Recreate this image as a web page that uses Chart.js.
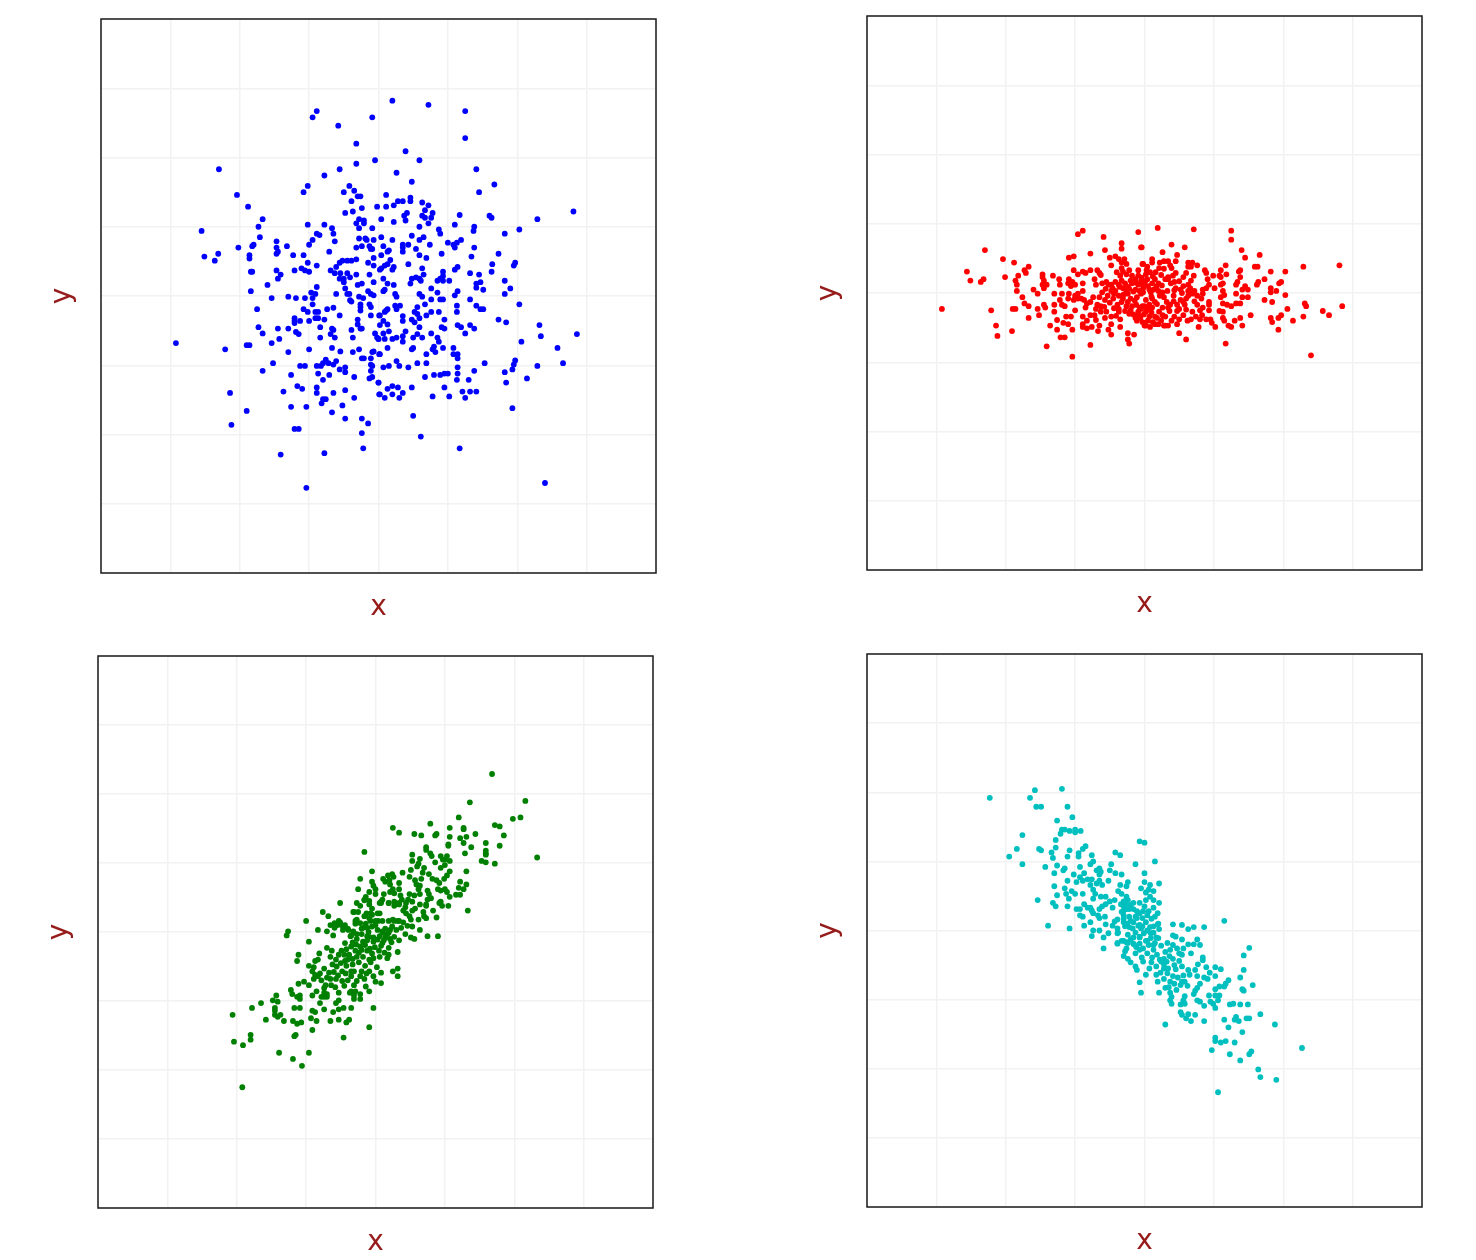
<!DOCTYPE html>
<html>
<head>
<meta charset="utf-8">
<title>scatter</title>
<script src="https://cdn.jsdelivr.net/npm/chart.js@4/dist/chart.umd.min.js"></script>
<style>
html, body { margin: 0; padding: 0; background: #fff; overflow: hidden; }
canvas { position: absolute; }
</style>
</head>
<body>
<canvas id="c1"></canvas>
<canvas id="c2"></canvas>
<canvas id="c3"></canvas>
<canvas id="c4"></canvas>
<script>
// values, [x, y]
var bluePoints = [
[-0.89,2.67],[-0.95,2.58],[-0.09,2.58],[-0.58,2.46],[-0.32,2.20],[-0.32,1.91],[-0.05,1.96],[-2.30,1.83],[-0.56,1.83],[-0.78,1.74],
[-1.02,1.59],[-1.08,1.50],[-0.42,1.59],[-0.35,1.52],[-0.50,1.50],[-2.04,1.46],[-0.30,1.44],[-0.26,1.44],[-0.39,1.37],[-1.88,1.29],
[-0.24,1.27],[-0.02,1.29],[-0.37,1.22],[-0.48,1.20],[-1.67,1.11],[-0.28,1.11],[-0.21,1.09],[-0.32,1.05],[-0.21,1.05],[-1.73,1.00],
[-1.02,1.03],[-0.78,1.03],[-0.67,0.98],[-0.28,0.98],[-0.09,0.98],[-2.55,0.94],[-0.89,0.90],[-0.85,0.88],[-0.65,0.90],[-1.71,0.85],
[-0.28,0.83],[-0.19,0.83],[-0.17,0.81],[-0.07,0.81],[-0.95,0.81],[-1.47,0.79],[-0.63,0.79],[-1.00,0.74],[-1.32,0.72],[-1.47,0.70],
[-1.80,0.74],[-1.82,0.72],[-2.02,0.70],[-0.32,0.70],[-0.24,0.72],[-0.13,0.72],[-0.11,0.68],[-0.09,0.68],[-1.45,0.64],[-1.47,0.61],
[-0.71,0.64],[-2.31,0.61],[-1.86,0.59],[-1.86,0.54],[-1.23,0.59],[-1.08,0.59],[-2.51,0.57],[-2.36,0.51],[-0.07,0.55],[-1.02,0.48],
[-0.89,0.44],[-0.15,0.48],[-0.32,0.53],[-0.39,0.51],[-0.45,0.51],[-0.52,0.51],[-0.56,0.48],[-0.61,0.42],[-0.07,0.44],[-1.11,0.40],
[-1.06,0.37],[-1.00,0.35],[-1.21,0.37],[-1.47,0.37],[-1.84,0.35],[-1.82,0.35],[-1.41,0.31],[-0.69,0.37],[-0.63,0.33],[-0.55,0.33],
[-0.45,0.33],[-0.32,0.31],[-0.13,0.31],[-1.45,0.25],[-0.56,0.25],[-0.50,0.25],[-0.41,0.27],[-0.50,0.20],[-0.07,0.20],[-0.30,0.16],
[-0.24,0.18],[-1.60,0.16],[-0.89,0.13],[-0.48,0.11],[-1.84,0.07],[-0.97,0.05],[-0.91,0.03],[-0.61,0.03],[-0.45,0.03],[-0.42,0.03],
[-0.15,0.07],[-0.11,0.03],[-0.07,0.01],[-1.54,-0.03],[-1.30,-0.01],[-1.19,-0.03],[-1.06,-0.03],[-0.95,-0.03],[-0.41,-0.06],[-0.28,-0.01],
[-0.22,-0.03],[-0.95,-0.12],[-1.08,-0.19],[-1.75,-0.19],[-1.02,-0.23],[-0.91,-0.23],[-0.87,-0.23],[-0.74,-0.19],[-0.65,-0.17],[-0.56,-0.28],
[-0.39,-0.08],[-0.26,-0.12],[-0.13,-0.12],[-0.11,-0.16],[-0.26,-0.21],[-0.26,-0.16],[-0.11,-0.28],[0.01,-0.28],[-1.21,-0.32],[-1.21,-0.36],
[-1.21,-0.39],[-1.13,-0.36],[-1.00,-0.36],[-0.91,-0.32],[-0.87,-0.32],[-0.78,-0.34],[-0.30,-0.34],[-0.30,-0.41],[-0.26,-0.47],[-0.24,-0.47],
[-1.73,-0.45],[-1.45,-0.47],[-1.30,-0.47],[-0.84,-0.45],[-0.67,-0.47],[-0.65,-0.49],[-0.39,-0.49],[-1.67,-0.54],[-1.19,-0.52],[-1.15,-0.55],
[-0.69,-0.55],[-0.05,-0.54],[-0.84,-0.60],[-0.63,-0.60],[-0.37,-0.60],[-0.02,-0.60],[0.00,-0.62],[-1.43,-0.62],[-1.54,-0.68],[-2.92,-0.68],
[-1.90,-0.71],[-1.86,-0.71],[-2.21,-0.77],[-1.00,-0.77],[-0.67,-0.75],[-0.28,-0.77],[-1.30,-0.81],[-0.55,-0.80],[-0.37,-0.81],[-0.07,-0.80],
[-0.09,-0.81],[0.01,-0.84],[-0.24,-0.90],[-0.21,-0.90],[-0.11,-0.90],[-1.52,-0.97],[-0.76,-0.92],[-0.80,-0.97],[-0.72,-0.97],[-0.61,-0.94],
[-0.65,-0.99],[-1.13,-1.01],[-1.06,-1.01],[-0.89,-1.01],[-0.83,-1.01],[-0.11,-0.99],[-0.09,-1.01],[-1.67,-1.08],[-0.56,-1.06],[-0.48,-1.03],
[-0.48,-1.10],[-0.11,-1.08],[-0.87,-1.12],[-1.26,-1.14],[-0.71,-1.14],[-0.35,-1.17],[-0.09,-1.17],[-0.13,-1.19],[-0.80,-1.21],[0.00,-1.25],
[-1.17,-1.30],[-1.10,-1.34],[-0.89,-1.32],[-1.37,-1.38],[-2.14,-1.40],[-0.89,-1.40],[-0.65,-1.40],[-0.48,-1.36],[0.01,-1.42],[-0.35,-1.47],
[-0.80,-1.49],[-0.76,-1.49],[-0.82,-1.55],[-0.52,-1.58],[-1.26,-1.60],[-1.04,-1.60],[-1.90,-1.66],[-0.67,-1.68],[-0.48,-1.77],[-0.24,-1.77],
[-0.15,-1.84],[-2.12,-1.86],[-1.21,-1.92],[-1.15,-1.92],[-0.24,-1.98],[-0.22,-2.20],[-0.78,-2.27],[-1.41,-2.29],[-1.04,-2.77],
[0.20,2.82],[0.72,2.76],[1.25,2.67],[1.25,2.28],[0.39,2.09],[0.59,1.96],[1.41,1.83],[0.26,1.78],[0.48,1.65],[1.67,1.61],
[1.45,1.50],[0.11,1.46],[0.28,1.37],[0.35,1.37],[0.46,1.42],[0.46,1.37],[0.63,1.35],[0.72,1.31],[0.22,1.31],[0.11,1.29],
[0.67,1.24],[0.78,1.20],[1.17,1.17],[0.41,1.20],[0.37,1.16],[0.39,1.09],[0.63,1.16],[0.67,1.13],[0.76,1.13],[1.60,1.16],
[1.63,1.13],[2.29,1.11],[2.81,1.22],[0.04,1.11],[0.22,1.07],[0.72,1.05],[1.10,1.03],[0.59,1.00],[1.38,1.00],[1.37,0.94],
[0.87,0.96],[0.89,0.90],[2.03,0.96],[1.82,0.90],[0.04,0.85],[0.48,0.87],[0.65,0.85],[0.59,0.81],[0.20,0.81],[1.19,0.81],
[1.00,0.77],[0.74,0.74],[1.13,0.77],[1.08,0.74],[1.10,0.70],[0.07,0.72],[0.35,0.74],[0.43,0.74],[0.35,0.70],[0.35,0.64],
[0.54,0.68],[1.38,0.70],[0.15,0.66],[0.13,0.64],[0.91,0.61],[1.73,0.61],[0.04,0.59],[0.59,0.59],[0.69,0.55],[1.34,0.57],
[0.17,0.52],[0.43,0.46],[0.13,0.46],[0.09,0.44],[0.04,0.40],[0.02,0.38],[0.22,0.42],[0.20,0.38],[1.64,0.46],[1.97,0.48],
[1.95,0.44],[1.14,0.42],[1.10,0.38],[0.63,0.40],[1.63,0.35],[1.32,0.33],[1.45,0.31],[0.65,0.31],[0.93,0.35],[0.93,0.29],
[0.93,0.22],[0.89,0.25],[0.85,0.22],[1.02,0.22],[0.48,0.25],[0.54,0.27],[0.59,0.25],[0.61,0.22],[0.46,0.18],[0.07,0.25],
[0.13,0.18],[0.22,0.16],[1.82,0.22],[1.47,0.20],[1.41,0.18],[1.41,0.12],[1.51,0.09],[1.90,0.11],[0.76,0.11],[0.09,0.09],
[0.07,0.07],[1.14,0.07],[1.10,0.01],[0.85,0.05],[1.82,0.03],[0.24,0.03],[0.26,-0.01],[0.59,0.03],[0.63,-0.01],[0.76,-0.05],
[0.89,-0.05],[0.93,-0.05],[1.32,-0.05],[2.03,-0.12],[0.67,-0.12],[1.41,-0.14],[1.13,-0.14],[1.13,-0.23],[1.47,-0.19],[1.51,-0.19],
[0.24,-0.14],[0.31,-0.14],[0.26,-0.19],[0.13,-0.19],[0.09,-0.23],[0.02,-0.28],[0.11,-0.21],[0.56,-0.16],[0.52,-0.23],[0.56,-0.26],
[0.76,-0.23],[0.69,-0.28],[0.87,-0.23],[0.35,-0.29],[0.35,-0.36],[0.59,-0.32],[0.48,-0.34],[0.52,-0.38],[0.95,-0.34],[1.73,-0.34],
[1.84,-0.38],[0.07,-0.36],[0.13,-0.41],[0.02,-0.42],[0.59,-0.45],[0.91,-0.45],[0.95,-0.47],[1.14,-0.42],[1.19,-0.45],[1.32,-0.42],
[1.38,-0.47],[2.32,-0.42],[0.39,-0.51],[0.15,-0.51],[0.07,-0.54],[0.76,-0.54],[1.25,-0.54],[2.86,-0.55],[2.34,-0.58],[0.56,-0.55],
[0.50,-0.60],[0.63,-0.60],[0.35,-0.58],[0.26,-0.60],[0.20,-0.62],[0.09,-0.62],[0.00,-0.62],[0.35,-0.66],[0.85,-0.60],[0.87,-0.66],
[0.80,-0.73],[2.06,-0.66],[0.13,-0.75],[0.48,-0.77],[0.50,-0.75],[0.93,-0.75],[1.08,-0.75],[2.58,-0.75],[0.78,-0.77],[0.82,-0.81],
[0.69,-0.84],[0.02,-0.84],[1.08,-0.84],[1.14,-0.84],[1.14,-0.90],[1.97,-0.93],[1.95,-0.99],[1.93,-1.06],[0.26,-0.94],[0.30,-1.01],
[0.56,-0.97],[0.69,-0.97],[1.53,-0.97],[2.66,-0.97],[2.29,-1.01],[0.15,-1.01],[0.07,-1.03],[0.43,-1.03],[1.14,-1.03],[1.14,-1.12],
[1.13,-1.21],[1.38,-1.08],[1.82,-1.10],[0.67,-1.17],[0.80,-1.14],[0.89,-1.14],[0.95,-1.12],[1.00,-1.12],[2.14,-1.19],[1.30,-1.21],
[1.84,-1.25],[0.00,-1.25],[0.20,-1.30],[0.13,-1.34],[0.28,-1.32],[0.48,-1.32],[0.95,-1.32],[1.21,-1.38],[1.32,-1.38],[1.41,-1.38],
[0.02,-1.42],[0.09,-1.47],[0.20,-1.42],[0.35,-1.40],[0.30,-1.47],[0.78,-1.45],[1.02,-1.45],[1.25,-1.47],[1.93,-1.62],[0.50,-1.73],
[0.61,-2.03],[1.17,-2.20],[2.40,-2.70]
];
var redPoints = [
[-0.89,0.90],[-0.96,0.85],[-0.59,0.81],[-0.09,0.88],[-0.33,0.72],[-0.33,0.64],[-0.05,0.66],[-2.30,0.62],[-0.57,0.62],[-0.78,0.57],
[-1.02,0.53],[-1.09,0.51],[-2.04,0.49],[-1.88,0.44],[-0.50,0.51],[-0.48,0.40],[-0.42,0.53],[-0.37,0.49],[-0.33,0.44],[-0.29,0.49],
[-0.26,0.42],[-0.03,0.42],[-1.67,0.38],[-1.73,0.33],[-1.71,0.29],[-1.02,0.33],[-2.56,0.31],[-0.96,0.27],[-0.89,0.31],[-0.85,0.29],
[-0.78,0.33],[-0.68,0.33],[-0.65,0.29],[-0.63,0.26],[-0.33,0.36],[-0.31,0.31],[-0.26,0.27],[-0.22,0.33],[-0.09,0.33],[-0.09,0.25],
[-1.47,0.27],[-1.47,0.23],[-1.45,0.18],[-1.32,0.25],[-1.23,0.20],[-1.82,0.25],[-1.86,0.18],[-1.84,0.12],[-2.01,0.23],[-2.32,0.20],
[-2.36,0.16],[-2.51,0.18],[-1.09,0.20],[-1.10,0.14],[-1.04,0.16],[-1.00,0.12],[-1.06,0.10],[-0.89,0.14],[-0.72,0.20],[-1.22,0.12],
[-1.41,0.12],[-1.45,0.07],[-1.47,0.12],[-0.70,0.12],[-0.61,0.14],[-0.55,0.16],[-0.48,0.12],[-0.42,0.16],[-0.52,0.12],[-0.46,0.07],
[-0.35,0.25],[-0.33,0.18],[-0.37,0.12],[-0.31,0.07],[-0.42,0.03],[-0.48,0.03],[-0.26,0.03],[-0.18,0.25],[-0.13,0.20],[-0.18,0.14],
[-0.09,0.12],[-0.13,0.05],[-0.07,0.03],[-1.84,0.03],[-1.60,0.05],[-1.54,-0.01],[-1.30,-0.01],[-1.19,-0.01],[-0.89,0.03],[-0.96,-0.01],
[-1.09,-0.01],[-0.61,0.01],[-0.65,-0.06],[-0.44,-0.01],[-0.37,-0.04],[-0.24,-0.01],[-0.31,-0.08],[-0.20,-0.08],[-0.11,-0.06],[-0.05,-0.01],
[-1.76,-0.06],[-1.73,-0.15],[-1.67,-0.19],[-1.10,-0.08],[-1.02,-0.10],[-1.22,-0.10],[-1.19,-0.17],[-1.15,-0.19],[-1.00,-0.04],[-0.96,-0.08],
[-0.91,-0.08],[-0.87,-0.10],[-0.83,-0.15],[-0.85,-0.21],[-0.74,-0.06],[-0.78,-0.13],[-0.57,-0.10],[-1.30,-0.17],[-1.30,-0.27],[-1.45,-0.17],
[-1.43,-0.21],[-0.68,-0.17],[-0.63,-0.19],[-0.70,-0.23],[-0.39,-0.17],[-0.37,-0.23],[-0.37,-0.27],[-0.26,-0.19],[-0.28,-0.26],[-0.22,-0.30],
[-0.03,-0.19],[-0.09,-0.27],[-0.05,-0.23],[-2.92,-0.23],[-2.21,-0.25],[-1.90,-0.23],[-1.86,-0.23],[-1.54,-0.23],[-1.00,-0.25],[-0.55,-0.27],
[-0.63,-0.27],[-0.72,-0.32],[-0.78,-0.32],[-0.89,-0.34],[-0.70,-0.39],[-1.52,-0.32],[-1.67,-0.36],[-1.13,-0.34],[-1.06,-0.34],[-1.26,-0.39],
[-0.57,-0.36],[-0.48,-0.34],[-0.48,-0.45],[-0.35,-0.38],[-0.35,-0.49],[-0.09,-0.32],[-0.11,-0.40],[-0.13,-0.36],[-0.83,-0.40],[-0.89,-0.45],
[-0.89,-0.49],[-0.83,-0.51],[-0.76,-0.49],[-1.17,-0.43],[-1.10,-0.45],[-0.65,-0.47],[-0.03,-0.42],[0.00,-0.47],[-2.14,-0.47],[-1.36,-0.47],
[-1.26,-0.53],[-1.04,-0.53],[-0.67,-0.55],[-0.52,-0.53],[-0.48,-0.60],[-1.91,-0.55],[-0.24,-0.58],[-0.15,-0.60],[-2.12,-0.62],[-1.21,-0.64],
[-1.15,-0.64],[-0.24,-0.67],[-0.22,-0.73],[-0.78,-0.75],[-1.41,-0.77],[-1.04,-0.92],
[0.19,0.94],[0.71,0.92],[1.25,0.90],[1.25,0.77],[0.39,0.70],[0.58,0.66],[-0.04,0.66],[0.26,0.59],[0.47,0.55],[1.40,0.62],
[1.45,0.51],[1.66,0.55],[0.11,0.49],[0.11,0.44],[0.22,0.44],[0.28,0.46],[0.34,0.46],[0.45,0.46],[-0.02,0.42],[0.04,0.38],
[0.21,0.36],[0.37,0.40],[0.39,0.36],[0.63,0.44],[0.63,0.38],[0.69,0.44],[0.67,0.38],[0.76,0.40],[1.17,0.40],[1.59,0.38],
[1.63,0.38],[2.29,0.38],[2.81,0.40],[2.03,0.31],[1.82,0.31],[1.38,0.33],[1.36,0.31],[1.10,0.33],[1.08,0.25],[1.10,0.23],
[0.87,0.33],[0.89,0.29],[1.18,0.27],[0.99,0.25],[0.45,0.29],[0.41,0.25],[0.34,0.23],[0.34,0.20],[0.60,0.29],[0.56,0.23],
[0.71,0.25],[0.67,0.18],[0.02,0.27],[0.04,0.20],[0.15,0.20],[0.11,0.14],[0.20,0.14],[1.73,0.20],[1.64,0.16],[1.62,0.12],
[1.97,0.16],[1.94,0.14],[1.38,0.23],[1.34,0.16],[1.32,0.12],[0.91,0.20],[0.43,0.16],[1.13,0.14],[1.10,0.12],[0.93,0.12],
[0.89,0.07],[0.84,0.05],[0.56,0.10],[0.63,0.12],[0.45,0.07],[0.52,0.05],[1.01,0.07],[1.82,0.07],[1.82,0.01],[1.90,0.03],
[1.45,0.10],[1.41,0.05],[1.49,0.05],[1.32,-0.01],[-0.02,0.07],[0.07,0.05],[0.13,0.05],[-0.02,0.01],[0.26,0.01],[0.24,-0.01],
[0.28,-0.06],[0.63,0.03],[0.69,-0.01],[0.63,-0.04],[0.84,-0.01],[0.76,-0.04],[0.82,-0.08],[1.13,0.03],[1.15,-0.03],[1.10,-0.06],
[1.41,-0.06],[1.49,-0.06],[2.03,-0.03],[0.02,-0.10],[0.11,-0.08],[0.15,-0.13],[0.07,-0.17],[0.00,-0.19],[0.37,-0.17],[0.34,-0.21],
[0.26,-0.21],[0.52,-0.10],[0.56,-0.13],[0.47,-0.17],[0.58,-0.17],[1.73,-0.10],[1.84,-0.13],[0.93,-0.13],[0.93,-0.17],[0.76,-0.17],
[0.84,-0.21],[0.80,-0.25],[0.93,-0.25],[1.13,-0.15],[1.19,-0.17],[1.25,-0.19],[1.32,-0.15],[1.38,-0.15],[2.31,-0.15],[2.33,-0.19],
[2.85,-0.19],[-0.07,-0.21],[0.02,-0.27],[0.11,-0.21],[0.50,-0.23],[0.47,-0.26],[2.06,-0.23],[1.08,-0.26],[1.13,-0.27],[2.57,-0.26],
[2.66,-0.32],[1.53,-0.32],[0.69,-0.27],[0.56,-0.32],[0.67,-0.38],[0.43,-0.34],[0.26,-0.32],[0.30,-0.34],[0.07,-0.34],[0.15,-0.34],
[1.97,-0.32],[1.93,-0.36],[1.82,-0.36],[1.84,-0.42],[2.29,-0.34],[2.14,-0.40],[1.38,-0.36],[1.13,-0.36],[1.15,-0.40],[0.80,-0.38],
[0.89,-0.38],[0.95,-0.38],[1.30,-0.40],[0.00,-0.43],[0.02,-0.47],[0.08,-0.49],[0.15,-0.45],[0.20,-0.45],[0.28,-0.47],[0.34,-0.47],
[0.30,-0.47],[0.47,-0.45],[0.97,-0.43],[1.02,-0.49],[0.78,-0.49],[1.21,-0.47],[1.25,-0.49],[1.41,-0.47],[1.93,-0.53],[0.50,-0.58],
[0.60,-0.67],[1.17,-0.73],[2.40,-0.90]
];
// extra marks for the crowded middle of the red cloud
var redCore = [
[-0.40,0.30],[-0.36,0.09],[-0.28,0.14],[-0.24,0.09],[-0.20,0.18],[-0.16,0.02],[-0.14,-0.11],[-0.05,0.17],[-0.02,0.12],[0.01,0.17],
[0.05,0.10],[0.09,0.01],[0.12,0.24],[0.17,0.09],[0.22,-0.04],[0.25,0.11],[0.30,0.20],[0.33,0.03],[0.38,0.14],[0.42,-0.04],
[0.50,0.17],[0.54,0.00],[0.60,-0.08],[0.66,0.07],[0.72,0.03],[-0.56,0.06],[-0.53,-0.04],[-0.50,-0.14],[-0.44,-0.22],[-0.41,-0.33],
[-0.33,-0.13],[-0.30,-0.02],[-0.24,-0.13],[-0.18,-0.19],[-0.16,-0.31],[-0.12,-0.17],[-0.06,-0.36],[-0.01,-0.31],[0.04,-0.23],[0.05,-0.40],
[0.10,-0.28],[0.12,-0.42],[0.18,-0.16],[0.21,-0.27],[0.24,-0.40],[0.32,-0.13],[0.36,-0.26],[0.39,-0.40],[0.42,-0.12],[0.50,-0.38],
[0.60,-0.24],[0.62,-0.40],[0.72,-0.12],[0.74,-0.34],[0.83,-0.32],[0.03,0.33],[0.08,0.30],[0.16,0.30],[0.24,0.26],[0.28,0.35],
[-0.13,0.15],[-0.04,0.22],[0.18,-0.36],[-0.20,-0.25],[-0.58,-0.20],[-0.45,-0.08],[-0.22,0.06],[0.10,-0.05],[0.43,0.04],[0.20,0.03]
];
var greenPoints = [
[-0.51,0.42],[-0.76,0.29],[-0.68,0.23],[-1.00,0.16],[-1.26,0.01],[-1.28,-0.05],[-0.83,0.03],[-0.70,0.01],[-0.61,-0.05],[-0.96,-0.14],
[-0.65,0.10],[-0.59,0.13],[-0.53,0.16],[-0.55,0.10],[-0.49,0.10],[-0.46,0.06],[-0.59,0.06],[-0.27,0.42],[-0.22,0.38],[-0.31,0.29],
[-0.25,0.29],[-0.16,0.46],[-0.29,0.16],[-0.22,0.13],[-0.39,0.03],[-0.35,-0.05],[-0.18,0.06],[-0.27,-0.03],[-0.09,0.40],[-0.13,0.27],
[-0.05,0.25],[0.03,0.27],[-0.07,0.16],[0.00,0.16],[0.08,0.42],[0.19,0.42],[0.27,0.38],[0.34,0.42],[0.10,0.16],[0.19,0.16],
[0.27,0.16],[0.34,0.16],[-0.12,0.06],[-0.05,0.08],[0.14,0.05],[0.10,-0.01],[0.19,-0.01],[0.27,-0.07],[-0.18,-0.14],[-0.22,-0.21],
[-0.09,-0.07],[-0.03,-0.14],[-0.12,-0.27],[-0.70,-0.23],[-0.63,-0.27],[-0.81,-0.31],[-0.65,-0.36],[-0.44,-0.16],[-0.49,-0.27],[-0.53,-0.33],
[-0.42,-0.25],[-0.35,-0.21],[-0.29,-0.27],[-1.11,-0.33],[-1.13,-0.42],[-0.83,-0.40],[-0.87,-0.42],[-0.96,-0.49],[-0.89,-0.51],[-0.91,-0.57],
[-0.87,-0.62],[-0.89,-0.68],[-0.83,-0.64],[-0.74,-0.53],[-0.57,-0.40],[-0.44,-0.42],[-0.42,-0.49],[-0.33,-0.47],[-0.18,-0.36],[-0.09,-0.40],
[-0.07,-0.44],[-0.03,-0.38],[0.06,-0.36],[0.10,-0.16],[0.19,-0.23],[0.19,-0.33],[0.17,-0.38],[0.32,-0.29],[0.02,-0.51],[0.08,-0.59],
[0.25,-0.57],[0.32,-0.53],[0.32,-0.64],[-0.35,-0.57],[-0.31,-0.57],[-0.35,-0.64],[-0.20,-0.57],[-0.09,-0.57],[-0.03,-0.64],[-0.48,-0.57],
[-0.57,-0.68],[-0.48,-0.71],[-0.67,-0.59],[-0.70,-0.66],[-0.65,-0.68],[-0.22,-0.64],[-0.27,-0.71],[-0.31,-0.77],[0.00,-0.72],[0.08,-0.74],
[-1.03,-0.72],[-1.11,-0.75],[-0.96,-0.77],[-0.72,-0.77],[-0.74,-0.81],[-0.64,-0.77],[-0.85,-0.86],[-1.22,-0.84],[-1.20,-0.90],[-1.13,-0.94],
[-1.09,-0.92],[-1.09,-0.97],[-0.35,-0.86],[-0.37,-0.88],[-0.29,-0.86],[-0.14,-0.79],[-0.09,-0.86],[-0.53,-0.88],[-0.74,-0.88],[-0.70,-0.90],
[-0.78,-0.94],[-0.74,-0.94],[-0.70,-0.94],[-0.91,-0.92],[-0.31,-0.92],[-0.31,-0.97],[-0.22,-0.90],[-0.22,-0.97],[-1.43,-0.92],[-1.48,-0.99],
[-1.41,-1.01],[-0.53,-0.99],[-0.57,-1.03],[-0.80,-1.03],[-1.65,-1.03],[-1.78,-1.10],[-1.17,-1.10],[-1.09,-1.10],[-1.45,-1.10],[-1.45,-1.14],
[-1.45,-1.20],[-1.41,-1.23],[-1.37,-1.20],[-0.74,-1.12],[-0.53,-1.12],[-0.46,-1.10],[-0.35,-1.10],[-0.03,-1.10],[-0.91,-1.14],[-0.87,-1.16],
[-0.61,-1.16],[-2.06,-1.20],[-0.93,-1.25],[-1.58,-1.27],[-1.32,-1.29],[-1.19,-1.29],[-1.13,-1.33],[-1.07,-1.31],[-0.85,-1.29],[-0.65,-1.29],
[-0.53,-1.27],[-0.38,-1.27],[-0.42,-1.31],[-0.91,-1.42],[-0.09,-1.38],[-1.17,-1.51],[-1.15,-1.49],[-1.80,-1.49],[-1.80,-1.56],[-0.46,-1.53],
[-2.04,-1.59],[-1.91,-1.64],[-1.39,-1.75],[-0.96,-1.75],[-1.19,-1.84],[-1.06,-1.94],[-1.92,-2.25],
[1.68,2.29],[1.36,1.88],[2.16,1.90],[1.20,1.66],[1.98,1.64],[2.09,1.66],[0.79,1.57],[0.25,1.51],[0.34,1.44],[1.07,1.51],
[1.07,1.38],[1.27,1.51],[1.27,1.49],[1.72,1.55],[1.79,1.53],[0.56,1.42],[0.66,1.40],[0.86,1.40],[0.88,1.42],[1.44,1.42],
[1.85,1.40],[1.22,1.36],[1.31,1.38],[1.27,1.29],[1.05,1.27],[1.05,1.25],[1.38,1.23],[1.59,1.29],[1.79,1.25],[-0.16,1.16],
[0.73,1.23],[0.73,1.19],[0.79,1.14],[0.81,1.10],[1.29,1.14],[1.59,1.18],[1.59,1.14],[1.59,1.12],[0.53,1.12],[0.53,1.03],
[0.64,1.06],[0.62,0.99],[0.60,0.95],[0.94,1.10],[1.03,1.10],[1.07,1.03],[1.00,1.05],[0.97,1.05],[0.86,1.01],[1.53,1.03],
[1.59,1.01],[1.72,0.99],[2.33,1.08],[0.94,0.93],[1.00,0.97],[-0.05,0.88],[0.51,0.90],[0.70,0.93],[0.68,0.86],[0.39,0.86],
[0.49,0.80],[1.31,0.88],[1.07,0.88],[1.03,0.82],[0.99,0.77],[0.77,0.84],[0.82,0.77],[0.88,0.75],[-0.22,0.77],[0.11,0.77],
[0.18,0.82],[0.24,0.84],[0.26,0.80],[0.20,0.75],[0.14,0.73],[0.66,0.77],[0.57,0.75],[0.59,0.69],[0.64,0.67],[-0.05,0.73],
[-0.03,0.67],[0.00,0.62],[0.34,0.71],[0.34,0.62],[0.92,0.71],[0.90,0.62],[1.22,0.73],[1.20,0.64],[1.27,0.62],[1.31,0.69],
[-0.25,0.62],[0.21,0.69],[0.21,0.58],[0.25,0.62],[0.27,0.56],[0.12,0.55],[0.10,0.47],[-0.09,0.58],[-0.14,0.51],[-0.16,0.47],
[-0.09,0.45],[0.00,0.55],[0.49,0.55],[0.56,0.53],[0.64,0.55],[0.62,0.62],[0.75,0.60],[0.77,0.55],[0.94,0.60],[1.00,0.62],
[1.03,0.58],[1.07,0.51],[1.16,0.54],[1.22,0.54],[0.75,0.47],[0.73,0.40],[0.80,0.49],[0.73,0.38],[0.92,0.42],[0.94,0.44],
[0.96,0.38],[1.05,0.38],[0.27,0.44],[0.36,0.53],[0.38,0.47],[0.34,0.40],[0.47,0.47],[0.44,0.42],[0.53,0.44],[0.43,0.36],
[0.06,0.42],[0.19,0.42],[0.08,0.44],[0.64,0.40],[0.83,0.31],[0.69,0.29],[1.33,0.31],[0.40,0.31],[0.44,0.27],[0.53,0.31],
[0.49,0.23],[0.57,0.34],[-0.32,0.29],[-0.05,0.34],[0.06,0.27],[-0.07,0.27],[-0.16,0.23],[-0.09,0.20],[0.04,0.16],[0.70,0.23],
[0.73,0.20],[0.88,0.21],[0.62,0.18],[0.25,0.18],[0.32,0.16],[0.40,0.14],[0.51,0.18],[0.53,0.08],[-0.27,0.18],[-0.29,0.12],
[-0.20,0.05],[-0.51,0.14],[-0.44,0.10],[-0.40,0.05],[-0.47,0.03],[-0.14,0.12],[0.00,0.10],[0.10,0.01],[0.21,0.03],[0.30,0.03],
[0.17,-0.03],[0.64,0.03],[0.43,-0.03],[0.51,-0.08],[0.56,-0.10],[0.75,-0.06],[0.90,-0.06],[-0.32,0.01],[-0.20,-0.03],[-0.27,-0.10],
[-0.36,-0.06],[-0.03,-0.08],[-0.12,-0.06],[0.06,-0.06],[0.12,-0.12],[0.21,-0.10],[0.34,-0.12]
];
// extra marks for the crowded middle of the green cloud
var greenCore = [
[-0.33,-0.15],[-0.28,-0.18],[-0.24,-0.30],[-0.20,-0.26],[-0.15,-0.19],[-0.12,-0.12],[-0.08,-0.24],[-0.05,-0.31],[-0.01,-0.22],[0.03,-0.11],
[0.05,-0.27],[0.08,-0.20],[0.13,-0.30],[0.14,-0.08],[0.23,-0.15],[-0.38,-0.33],[-0.33,-0.39],[-0.27,-0.36],[-0.24,-0.44],[-0.15,-0.49],
[-0.45,-0.33],[-0.40,-0.40],[-0.50,-0.45],[-0.56,-0.50],[-0.60,-0.58],[-0.54,-0.63],[-0.43,-0.60],[-0.40,-0.70],[-0.16,-0.68],[-0.13,-0.60],
[-0.62,-0.47],[-0.78,-0.70],[-0.80,-0.60],[-0.58,-0.80],[-0.45,-0.78],[-0.10,0.00],[0.03,0.03],[0.24,0.08],[0.37,0.06],[0.46,0.09]
];
var cyanPoints = [
[-2.23,1.92],[-1.58,2.03],[-1.65,1.92],[-1.19,2.05],[-1.56,1.79],[-1.49,1.79],[-1.11,1.79],[-1.04,1.64],[-1.26,1.59],[-1.19,1.46],
[-1.15,1.46],[-1.08,1.44],[-1.21,1.40],[-1.00,1.46],[-1.00,1.42],[-0.92,1.44],[-1.76,1.38],[-1.28,1.31],[-0.07,1.29],[0.00,1.27],
[-1.84,1.18],[-1.52,1.18],[-1.49,1.16],[-1.28,1.20],[-1.34,1.13],[-0.85,1.22],[-0.89,1.18],[-0.95,1.12],[-1.08,1.16],[-1.11,1.07],
[-0.76,1.09],[-0.95,1.07],[-0.42,1.13],[-0.35,1.09],[-1.95,1.07],[-1.32,1.05],[-1.76,0.96],[-0.74,1.00],[-0.78,0.96],[-1.43,0.92],
[-1.26,0.94],[-0.48,0.96],[-0.13,0.96],[0.15,1.00],[-0.93,0.92],[-1.15,0.90],[-1.17,0.87],[-0.65,0.90],[-0.69,0.87],[-0.63,0.85],
[-0.50,0.87],[-1.30,0.83],[-1.02,0.81],[-0.87,0.83],[-0.42,0.83],[-0.33,0.81],[0.00,0.83],[-0.93,0.77],[-0.98,0.70],[-0.89,0.72],
[-0.82,0.74],[-0.76,0.74],[-0.65,0.81],[-0.65,0.72],[-0.61,0.66],[-1.11,0.72],[-0.52,0.72],[-0.24,0.70],[-0.26,0.64],[0.00,0.70],
[-0.35,0.66],[0.21,0.68],[-1.30,0.64],[-1.15,0.61],[-0.78,0.66],[-0.74,0.59],[-0.69,0.68],[-0.71,0.53],[-0.05,0.61],[0.08,0.66],
[0.06,0.59],[0.13,0.57],[0.02,0.55],[-1.05,0.57],[-1.00,0.53],[-0.89,0.53],[-0.38,0.57],[-0.33,0.53],[-0.26,0.49],[-1.13,0.53],
[-1.09,0.46],[-1.26,0.51],[-0.74,0.46],[-0.63,0.49],[-0.56,0.49],[-1.54,0.44],[-0.43,0.44],[-0.50,0.42],[-0.30,0.42],[-0.24,0.44],
[-0.30,0.35],[0.08,0.49],[0.02,0.44],[0.13,0.44],[-1.32,0.40],[-1.28,0.35],[-1.11,0.35],[-0.87,0.38],[-0.82,0.33],[-0.76,0.29],
[-0.78,0.33],[-0.61,0.35],[-0.65,0.31],[-0.56,0.38],[-0.46,0.33],[-0.98,0.31],[-0.93,0.31],[-0.30,0.29],[-0.26,0.31],[-0.16,0.40],
[-0.07,0.40],[-0.16,0.31],[0.00,0.35],[0.13,0.33],[0.21,0.40],[-0.93,0.22],[-0.89,0.20],[-0.74,0.25],[-0.67,0.22],[-0.65,0.18],
[-0.57,0.20],[-0.39,0.16],[-0.30,0.22],[-0.22,0.20],[-0.07,0.25],[-0.11,0.18],[-0.03,0.18],[0.04,0.22],[0.15,0.20],[0.19,0.25],
[-1.39,0.07],[-1.08,0.03],[-0.87,0.07],[-0.78,0.12],[-0.65,0.00],[-0.56,0.09],[-0.74,0.00],[-0.46,0.07],[-0.39,0.03],[-0.38,-0.03],
[-0.30,0.12],[-0.22,0.05],[-0.16,0.12],[-0.09,0.07],[-0.05,0.03],[0.02,0.12],[0.08,0.05],[0.13,-0.03],[0.19,0.09],[-0.76,-0.08],
[-0.52,-0.04],[-0.59,-0.10],[-0.39,-0.19],[-0.33,-0.15],[-0.26,-0.17],[-0.16,-0.10],[-0.07,-0.10],[-0.16,-0.19],[-0.07,-0.19],[0.04,-0.15],
[0.17,-0.10],[0.13,-0.21],[-0.59,-0.26],[-0.26,-0.26],[-0.07,-0.28],
[1.15,0.14],[0.86,0.05],[-0.43,0.13],[-0.28,0.06],[-0.07,0.08],[0.13,0.06],[0.20,0.10],[0.41,0.09],[0.54,0.08],[0.63,0.02],
[0.71,0.05],[-0.39,-0.04],[-0.17,0.03],[0.09,-0.04],[0.21,0.02],[0.41,-0.07],[0.54,-0.13],[0.45,-0.09],[1.51,-0.25],[-0.39,-0.18],
[-0.30,-0.15],[-0.24,-0.18],[-0.07,-0.09],[0.02,-0.15],[-0.15,-0.20],[0.15,-0.18],[0.20,-0.11],[0.13,-0.28],[0.76,-0.13],[0.80,-0.21],
[0.71,-0.20],[0.63,-0.20],[0.56,-0.26],[0.41,-0.21],[0.37,-0.28],[0.50,-0.33],[1.43,-0.36],[-0.28,-0.30],[-0.30,-0.37],[-0.24,-0.41],
[-0.20,-0.46],[-0.13,-0.33],[-0.04,-0.39],[-0.02,-0.45],[0.11,-0.39],[0.28,-0.41],[0.24,-0.45],[0.32,-0.45],[0.41,-0.41],[0.54,-0.35],
[0.67,-0.33],[0.84,-0.39],[0.84,-0.43],[0.77,-0.49],[-0.13,-0.52],[-0.11,-0.57],[0.07,-0.55],[0.17,-0.52],[0.28,-0.49],[0.28,-0.55],
[0.43,-0.50],[0.45,-0.56],[0.54,-0.52],[0.89,-0.53],[1.02,-0.53],[1.10,-0.56],[1.43,-0.57],[0.02,-0.64],[0.17,-0.64],[0.28,-0.70],
[0.19,-0.74],[0.41,-0.66],[0.37,-0.74],[0.43,-0.77],[0.52,-0.79],[0.63,-0.57],[0.56,-0.65],[0.65,-0.64],[0.73,-0.57],[0.76,-0.66],
[0.94,-0.61],[1.02,-0.66],[0.86,-0.68],[0.91,-0.70],[1.38,-0.68],[-0.07,-0.75],[0.54,-0.74],[0.58,-0.74],[0.80,-0.77],[0.76,-0.83],
[0.73,-0.87],[1.21,-0.72],[1.17,-0.77],[1.08,-0.81],[1.15,-0.81],[1.02,-0.85],[1.56,-0.79],[1.41,-0.85],[1.43,-0.87],[0.30,-0.83],
[-0.05,-0.90],[0.21,-0.90],[0.37,-0.90],[0.39,-0.96],[0.37,-1.01],[0.39,-1.06],[0.58,-0.95],[0.56,-1.01],[0.58,-1.06],[0.52,-1.07],
[0.71,-0.92],[0.76,-1.01],[0.80,-1.03],[0.86,-1.09],[0.93,-0.94],[0.95,-1.03],[1.02,-0.94],[1.08,-0.94],[1.06,-1.01],[0.99,-1.06],
[1.02,-1.12],[1.23,-1.07],[1.28,-1.06],[1.38,-1.07],[1.49,-1.07],[0.52,-1.18],[0.54,-1.22],[0.63,-1.21],[0.60,-1.27],[0.67,-1.31],
[0.73,-1.22],[0.86,-1.31],[1.67,-1.21],[1.32,-1.25],[1.30,-1.29],[1.36,-1.31],[1.47,-1.27],[1.51,-1.27],[1.15,-1.29],[1.21,-1.40],
[0.30,-1.36],[1.88,-1.36],[1.41,-1.47],[1.02,-1.55],[1.02,-1.60],[1.10,-1.62],[1.17,-1.60],[1.30,-1.62],[0.97,-1.73],[2.27,-1.70],
[1.23,-1.79],[1.51,-1.79],[1.54,-1.75],[1.38,-1.88],[1.64,-2.01],[1.67,-2.12],[1.90,-2.16],[1.06,-2.34]
];
// extra marks for the crowded middle of the cyan cloud
var cyanCore = [
[-0.34,0.38],[-0.33,0.27],[-0.27,0.38],[-0.22,0.31],[-0.20,0.37],[-0.30,0.17],[-0.25,0.10],[-0.20,0.14],[-0.13,0.20],[-0.11,0.28],
[-0.02,0.28],[0.06,0.28],[0.10,0.17],[-0.03,0.06],[-0.01,-0.04],[0.04,0.00],[0.09,-0.11],[-0.13,-0.03],[-0.24,-0.06],[-0.20,-0.13],
[-0.12,-0.24],[-0.02,-0.26],[0.06,-0.21],[0.04,-0.33],[0.10,-0.46],[0.18,-0.35],[0.22,-0.42],[0.24,-0.22],[0.30,-0.31],[0.33,-0.18],
[0.36,-0.37],[0.47,-0.26],[0.50,-0.44],[0.34,-0.55],[0.23,-0.61],[0.33,-0.62],[0.48,-0.68],[0.35,-0.82],[0.46,-0.86],[0.62,-0.80]
];

var axisMin = -4;
var axisMax = 4;
var labelColor = '#961b1b';

// box round the plot, the axes only give two sides
var frame = {
    id: 'frame',
    afterDraw: function(chart){
        var a = chart.chartArea;
        var ctx = chart.ctx;
        ctx.save();
        ctx.strokeStyle = '#1a1a1a';
        ctx.lineWidth = 1.5;
        ctx.strokeRect(a.left, a.top, a.right - a.left, a.bottom - a.top);
        ctx.restore();
    }
};

function axis(title, fitSize, horizontal){
    return {
        type: 'linear',
        min: axisMin,
        max: axisMax,
        ticks: { display: false, stepSize: 1 },
        border: { display: false },
        grid: { color: '#f2f2f2', lineWidth: 1.5, drawTicks: false },
        title: { display: true, text: title, color: labelColor, padding: 0,
                 font: { family: 'DejaVu Sans', size: 28 } },
        afterFit: function(scale){
            if(horizontal) scale.height = fitSize; else scale.width = fitSize;
        }
    };
}

function drawPanel(id, points, color, left, top, w, h){
    var canvas = document.getElementById(id);
    var xTitleH = 52, yTitleW = 55;
    canvas.style.left = (left - yTitleW - 6) + 'px';
    canvas.style.top = (top - 10) + 'px';
    canvas.width = yTitleW + 6 + w + 20;
    canvas.height = 10 + h + xTitleH;
    canvas.style.width = canvas.width + 'px';
    canvas.style.height = canvas.height + 'px';
    new Chart(canvas.getContext('2d'), {
        type: 'scatter',
        data: {
            datasets: [{
                data: points.map(function(p){ return { x: p[0], y: p[1] }; }),
                backgroundColor: color,
                borderWidth: 0,
                pointRadius: 2.9
            }]
        },
        options: {
            responsive: false,
            animation: false,
            layout: { padding: { left: 6, top: 10, right: 20, bottom: 0 } },
            plugins: { legend: { display: false }, tooltip: { enabled: false } },
            scales: { x: axis('x', xTitleH, true), y: axis('y', yTitleW, false) }
        },
        plugins: [frame]
    });
}

drawPanel('c1', bluePoints, '#0000ff', 101, 19, 555, 554);
drawPanel('c2', redPoints.concat(redCore), '#ff0000', 867, 16, 555, 554);
drawPanel('c3', greenPoints.concat(greenCore), '#008000', 98, 656, 555, 552);
drawPanel('c4', cyanPoints.concat(cyanCore), '#00bfbf', 867, 654, 555, 553);
</script>
</body>
</html>
